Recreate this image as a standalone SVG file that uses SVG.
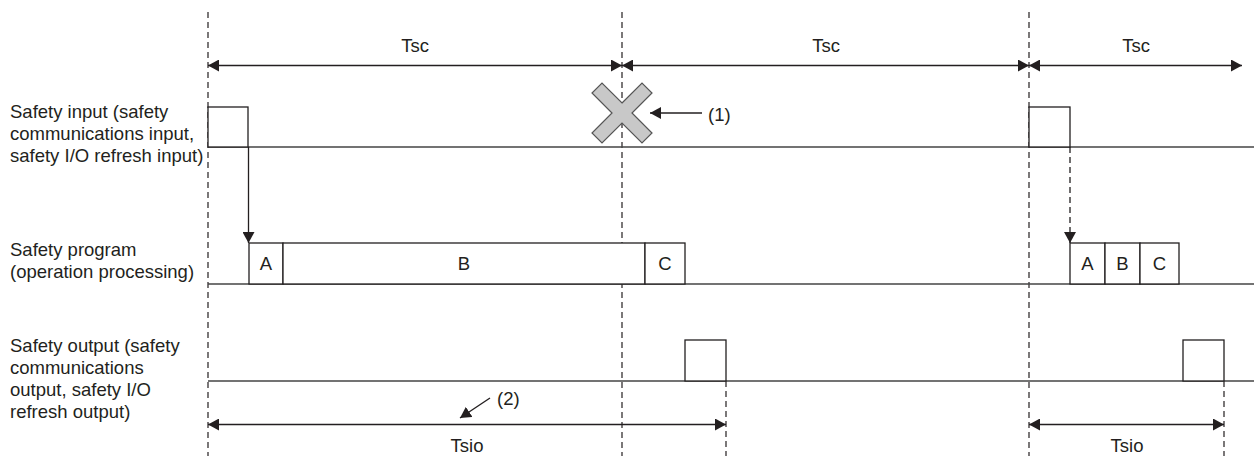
<svg xmlns="http://www.w3.org/2000/svg" width="1254" height="456" viewBox="0 0 1254 456">
<style>
text{font-family:"Liberation Sans",Arial,sans-serif;font-size:18.5px;fill:#231f20}
.mid{text-anchor:middle}
.dash{stroke:#231f20;stroke-width:1.2;stroke-dasharray:6 4;fill:none}
.tl{stroke:#444;stroke-width:1.6;fill:none}
.box{stroke:#231f20;stroke-width:1.3;fill:#fff}
.ln{stroke:#231f20;stroke-width:1.3;fill:none}
</style>
<defs>
<marker id="ah" viewBox="0 0 11 12" refX="11" refY="6" markerWidth="11" markerHeight="12" markerUnits="userSpaceOnUse" orient="auto-start-reverse">
<path d="M0,0 L11,6 L0,12 Z" fill="#231f20"/>
</marker>
</defs>
<rect width="1254" height="456" fill="#fff"/>
<g id="gridlines">
<line class="dash" x1="208" y1="12" x2="208" y2="456"/>
<line class="dash" x1="622" y1="12" x2="622" y2="456"/>
<line class="dash" x1="1029" y1="12" x2="1029" y2="456"/>
<line class="dash" x1="726" y1="381" x2="726" y2="456"/>
<line class="dash" x1="1224" y1="381" x2="1224" y2="456"/>
</g>
<g id="labels">
<text x="10" y="118">Safety input (safety</text>
<text x="10" y="140">communications input,</text>
<text x="10" y="162">safety I/O refresh input)</text>
<text x="10" y="256">Safety program</text>
<text x="10" y="278">(operation processing)</text>
<text x="10" y="352">Safety output (safety</text>
<text x="10" y="374">communications</text>
<text x="10" y="396">output, safety I/O</text>
<text x="10" y="418">refresh output)</text>
</g>
<g id="timelines">
<line class="tl" x1="208" y1="147" x2="1254" y2="147"/>
<line class="tl" x1="208" y1="284" x2="1254" y2="284"/>
<line class="tl" x1="208" y1="381" x2="1254" y2="381"/>
</g>
<g id="input-pulses">
<rect class="box" x="208" y="107" width="40" height="40"/>
<rect class="box" x="1029" y="107" width="41" height="40"/>
</g>
<g id="program1">
<rect class="box" x="249" y="243" width="34" height="41"/>
<text class="mid" x="266" y="270">A</text>
<rect class="box" x="283" y="243" width="362" height="41"/>
<text class="mid" x="464" y="270">B</text>
<rect class="box" x="645" y="243" width="40" height="41"/>
<text class="mid" x="665" y="270">C</text>
</g>
<g id="program2">
<rect class="box" x="1070" y="243" width="35" height="41"/>
<text class="mid" x="1087.5" y="270">A</text>
<rect class="box" x="1105" y="243" width="35" height="41"/>
<text class="mid" x="1122.5" y="270">B</text>
<rect class="box" x="1140" y="243" width="39" height="41"/>
<text class="mid" x="1159.5" y="270">C</text>
</g>
<g id="output-pulses">
<rect class="box" x="685" y="340" width="41" height="41"/>
<rect class="box" x="1183" y="340" width="41" height="41"/>
</g>
<g id="cross">
<polygon transform="translate(622,113)" points="0,-10 20,-30 30,-20 10,0 30,20 20,30 0,10 -20,30 -30,20 -10,0 -30,-20 -20,-30" fill="#c8c8c8" stroke="#555" stroke-width="1.2"/>
</g>
<g id="connectors">
<line class="ln" x1="208" y1="65.5" x2="622" y2="65.5" marker-start="url(#ah)" marker-end="url(#ah)"/>
<line class="ln" x1="622" y1="65.5" x2="1029" y2="65.5" marker-start="url(#ah)" marker-end="url(#ah)"/>
<line class="ln" x1="1029" y1="65.5" x2="1242" y2="65.5" marker-start="url(#ah)" marker-end="url(#ah)"/>
<line class="ln" x1="248.5" y1="147" x2="248.5" y2="243" marker-end="url(#ah)"/>
<line class="ln" x1="1070" y1="147" x2="1070" y2="243" stroke-dasharray="6 4" marker-end="url(#ah)"/>
<line class="ln" x1="702" y1="113" x2="650" y2="113" marker-end="url(#ah)"/>
<line class="ln" x1="490" y1="398" x2="460" y2="418" marker-end="url(#ah)"/>
<line class="ln" x1="208" y1="424.5" x2="726" y2="424.5" marker-start="url(#ah)" marker-end="url(#ah)"/>
<line class="ln" x1="1029" y1="424.5" x2="1224" y2="424.5" marker-start="url(#ah)" marker-end="url(#ah)"/>
</g>
<g id="annotations">
<text class="mid" x="415" y="52">Tsc</text>
<text class="mid" x="826" y="52">Tsc</text>
<text class="mid" x="1136" y="52">Tsc</text>
<text x="708" y="121">(1)</text>
<text x="497" y="405">(2)</text>
<text class="mid" x="467" y="452">Tsio</text>
<text class="mid" x="1127" y="452">Tsio</text>
</g>
</svg>
